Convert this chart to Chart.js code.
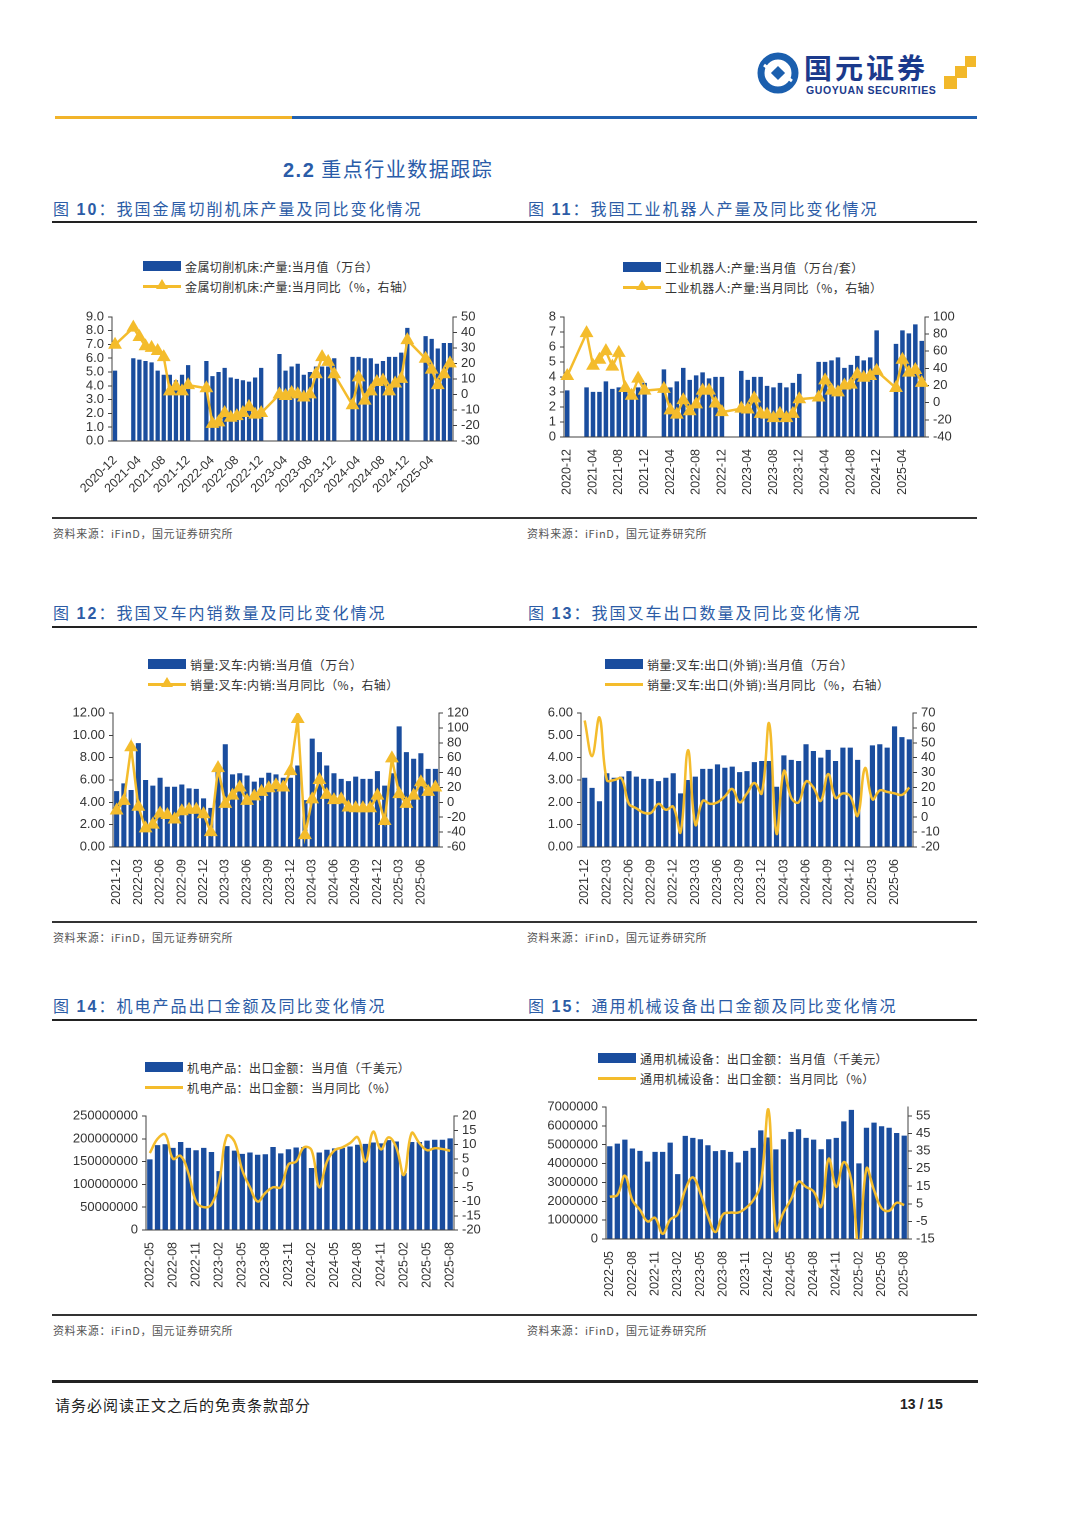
<!DOCTYPE html>
<html lang="zh-CN">
<head>
<meta charset="utf-8">
<title>2.2 重点行业数据跟踪</title>
<script src="https://cdn.jsdelivr.net/npm/chart.js@4.4.1/dist/chart.umd.min.js"></script>
<style>
  html, body { margin: 0; padding: 0; background: #fff; }
  body { width: 1080px; height: 1527px; position: relative; overflow: hidden;
         font-family: "Noto Sans CJK SC", "Noto Sans", sans-serif; color: #222; }
  .abs { position: absolute; }
  .figtitle { font-size: 16px; color: #2c5ca6; letter-spacing: 2px; white-space: nowrap; }
  .figtitle b { font-family: "Liberation Sans", Arial, sans-serif; }
  .rule { background: #222; }
  .src { font-size: 11px; color: #555; letter-spacing: 0.6px; white-space: nowrap; }
  .legend { font-size: 12px; color: #333; letter-spacing: 0.4px; white-space: nowrap; }
  .lg-row { height: 20px; display: flex; align-items: center; }
  .sw-bar { display: inline-block; width: 38px; height: 10px; background: #1a4d9e; margin-right: 4px; }
  .sw-line { display: inline-block; position: relative; width: 38px; height: 3px; background: #f4bc2c; margin-right: 4px; }
  .sw-line.tri::after { content: ""; position: absolute; left: 13px; top: -6px; width: 0; height: 0;
         border-left: 6px solid transparent; border-right: 6px solid transparent; border-bottom: 10px solid #f4bc2c; }
  canvas { position: absolute; }
</style>
</head>
<body>

<!-- header / logo -->
<svg class="abs" style="left:756px; top:51px" width="44" height="44" viewBox="0 0 44 44">
  <circle cx="22" cy="22" r="17" fill="none" stroke="#1b5fae" stroke-width="7"/>
  <path d="M8 14 L16 20" stroke="#fff" stroke-width="3"/>
  <path d="M36 30 L28 24" stroke="#fff" stroke-width="3"/>
  <rect x="17" y="17" width="10" height="10" fill="#1b5fae" transform="rotate(45 22 22)"/>
</svg>
<div class="abs" style="left:804px; top:53px; font-size:28px; line-height:28px; font-weight:bold; color:#1b3a8c; letter-spacing:3px; white-space:nowrap;">国元证券</div>
<div class="abs" style="left:806px; top:85px; font-size:10.5px; line-height:11px; font-weight:bold; color:#1b3a8c; font-family:'Liberation Sans',Arial,sans-serif; letter-spacing:0.6px; white-space:nowrap;">GUOYUAN SECURITIES</div>
<div class="abs" style="left:944px; top:76px; width:13px; height:13px; background:#f2b82a;"></div>
<div class="abs" style="left:955px; top:66px; width:12px; height:12px; background:#f2b82a;"></div>
<div class="abs" style="left:965px; top:56px; width:11px; height:11px; background:#f2b82a;"></div>
<div class="abs" style="left:55px; top:116px; width:237px; height:3px; background:#f2b42a;"></div>
<div class="abs" style="left:292px; top:116px; width:685px; height:3px; background:#2060b0;"></div>

<div class="abs" style="left:283px; top:154px; font-size:20px; color:#2a5ca8; letter-spacing:1.5px; white-space:nowrap;"><b style="font-family:'Liberation Sans',Arial,sans-serif;">2.2</b> 重点行业数据跟踪</div>

<!-- row 1 -->
<div class="abs figtitle" style="left:53px; top:196px;">图 <b>10</b>：我国金属切削机床产量及同比变化情况</div>
<div class="abs figtitle" style="left:528px; top:196px;">图 <b>11</b>：我国工业机器人产量及同比变化情况</div>
<div class="abs rule" style="left:52px; top:221px; width:925px; height:2px;"></div>

<div class="abs legend" style="left:143px; top:256px;">
  <div class="lg-row"><span class="sw-bar"></span>金属切削机床:产量:当月值（万台）</div>
  <div class="lg-row"><span class="sw-line tri"></span>金属切削机床:产量:当月同比（%，右轴）</div>
</div>
<div class="abs legend" style="left:623px; top:257px;">
  <div class="lg-row"><span class="sw-bar"></span>工业机器人:产量:当月值（万台/套）</div>
  <div class="lg-row"><span class="sw-line tri"></span>工业机器人:产量:当月同比（%，右轴）</div>
</div>
<canvas id="c10" width="440" height="205" style="left:50px; top:305px;"></canvas>
<canvas id="c11" width="445" height="200" style="left:525px; top:305px;"></canvas>

<div class="abs rule" style="left:52px; top:517px; width:925px; height:1.5px; background:#333;"></div>
<div class="abs src" style="left:53px; top:525px;">资料来源：iFinD，国元证券研究所</div>
<div class="abs src" style="left:527px; top:525px;">资料来源：iFinD，国元证券研究所</div>

<!-- row 2 -->
<div class="abs figtitle" style="left:53px; top:600px;">图 <b>12</b>：我国叉车内销数量及同比变化情况</div>
<div class="abs figtitle" style="left:528px; top:600px;">图 <b>13</b>：我国叉车出口数量及同比变化情况</div>
<div class="abs rule" style="left:52px; top:626px; width:925px; height:2px;"></div>

<div class="abs legend" style="left:148px; top:654px;">
  <div class="lg-row"><span class="sw-bar"></span>销量:叉车:内销:当月值（万台）</div>
  <div class="lg-row"><span class="sw-line tri"></span>销量:叉车:内销:当月同比（%，右轴）</div>
</div>
<div class="abs legend" style="left:605px; top:654px;">
  <div class="lg-row"><span class="sw-bar"></span>销量:叉车:出口(外销):当月值（万台）</div>
  <div class="lg-row"><span class="sw-line"></span>销量:叉车:出口(外销):当月同比（%，右轴）</div>
</div>
<canvas id="c12" width="440" height="210" style="left:50px; top:700px;"></canvas>
<canvas id="c13" width="445" height="210" style="left:525px; top:700px;"></canvas>

<div class="abs rule" style="left:52px; top:921px; width:925px; height:1.5px; background:#333;"></div>
<div class="abs src" style="left:53px; top:929px;">资料来源：iFinD，国元证券研究所</div>
<div class="abs src" style="left:527px; top:929px;">资料来源：iFinD，国元证券研究所</div>

<!-- row 3 -->
<div class="abs figtitle" style="left:53px; top:993px;">图 <b>14</b>：机电产品出口金额及同比变化情况</div>
<div class="abs figtitle" style="left:528px; top:993px;">图 <b>15</b>：通用机械设备出口金额及同比变化情况</div>
<div class="abs rule" style="left:52px; top:1019px; width:925px; height:2px;"></div>

<div class="abs legend" style="left:145px; top:1057px;">
  <div class="lg-row"><span class="sw-bar"></span>机电产品：出口金额：当月值（千美元）</div>
  <div class="lg-row"><span class="sw-line"></span>机电产品：出口金额：当月同比（%）</div>
</div>
<div class="abs legend" style="left:598px; top:1048px;">
  <div class="lg-row"><span class="sw-bar"></span>通用机械设备：出口金额：当月值（千美元）</div>
  <div class="lg-row"><span class="sw-line"></span>通用机械设备：出口金额：当月同比（%）</div>
</div>
<canvas id="c14" width="440" height="200" style="left:50px; top:1100px;"></canvas>
<canvas id="c15" width="445" height="210" style="left:525px; top:1095px;"></canvas>

<div class="abs rule" style="left:52px; top:1314px; width:925px; height:1.5px; background:#333;"></div>
<div class="abs src" style="left:53px; top:1322px;">资料来源：iFinD，国元证券研究所</div>
<div class="abs src" style="left:527px; top:1322px;">资料来源：iFinD，国元证券研究所</div>

<!-- footer -->
<div class="abs rule" style="left:52px; top:1380px; width:926px; height:2.5px;"></div>
<div class="abs" style="left:55px; top:1394px; font-size:15px; letter-spacing:1px; color:#222;">请务必阅读正文之后的免责条款部分</div>
<div class="abs" style="left:900px; top:1396px; font-size:14px; font-weight:bold; font-family:'Liberation Sans',Arial,sans-serif; color:#222;">13 / 15</div>

<script>
// month categories
const months1 = [
  '2020-12',
  '2021-01', '2021-02', '2021-03', '2021-04', '2021-05', '2021-06', '2021-07', '2021-08', '2021-09', '2021-10', '2021-11', '2021-12',
  '2022-01', '2022-02', '2022-03', '2022-04', '2022-05', '2022-06', '2022-07', '2022-08', '2022-09', '2022-10', '2022-11', '2022-12',
  '2023-01', '2023-02', '2023-03', '2023-04', '2023-05', '2023-06', '2023-07', '2023-08', '2023-09', '2023-10', '2023-11', '2023-12',
  '2024-01', '2024-02', '2024-03', '2024-04', '2024-05', '2024-06', '2024-07', '2024-08', '2024-09', '2024-10', '2024-11', '2024-12',
  '2025-01', '2025-02', '2025-03', '2025-04', '2025-05', '2025-06', '2025-07'
]
const months2 = [
  '2021-12',
  '2022-01', '2022-02', '2022-03', '2022-04', '2022-05', '2022-06', '2022-07', '2022-08', '2022-09', '2022-10', '2022-11', '2022-12',
  '2023-01', '2023-02', '2023-03', '2023-04', '2023-05', '2023-06', '2023-07', '2023-08', '2023-09', '2023-10', '2023-11', '2023-12',
  '2024-01', '2024-02', '2024-03', '2024-04', '2024-05', '2024-06', '2024-07', '2024-08', '2024-09', '2024-10', '2024-11', '2024-12',
  '2025-01', '2025-02', '2025-03', '2025-04', '2025-05', '2025-06', '2025-07', '2025-08'
]
const months3 = [
  '2022-05', '2022-06', '2022-07', '2022-08', '2022-09', '2022-10', '2022-11', '2022-12',
  '2023-01', '2023-02', '2023-03', '2023-04', '2023-05', '2023-06', '2023-07', '2023-08', '2023-09', '2023-10', '2023-11', '2023-12',
  '2024-01', '2024-02', '2024-03', '2024-04', '2024-05', '2024-06', '2024-07', '2024-08', '2024-09', '2024-10', '2024-11', '2024-12',
  '2025-01', '2025-02', '2025-03', '2025-04', '2025-05', '2025-06', '2025-07', '2025-08'
]

// 图10 金属切削机床 (Jan/Feb not published)
const machineOutput = [
  5.1,
  null, null, 6.0, 5.9, 5.8, 5.7, 5.1, 4.8, 4.8, 4.4, 4.8, 5.5,
  null, null, 5.8, 4.7, 5.0, 5.3, 4.6, 4.5, 4.4, 4.3, 4.6, 5.3,
  null, null, 6.3, 5.1, 5.4, 5.6, 4.8, 5.0, 5.4, 5.4, 5.4, 6.0,
  null, null, 6.1, 6.1, 6.0, 6.0, 5.6, 5.8, 6.1, 6.1, 6.4, 8.2,
  null, null, 7.6, 7.4, 6.7, 7.1, 7.1
]
const machineYoy = [
  32,
  null, null, 43, 37, 31, 30, 28, 24, 2, 5, 2, 6,
  null, null, 4, -19, -18, -12, -15, -14, -12, -8, -13, -12,
  null, null, 0, -1, 1, 0, -2, 0, 13, 24, 21, 13,
  null, null, -7, 11, -4, 2, 8, 9, 2, 7, 10, 35,
  null, null, 23, 16, 6, 13, 20
]

// 图11 工业机器人
const robotOutput = [
  3.1,
  null, null, 3.3, 3.0, 3.0, 3.7, 3.2, 3.3, 3.0, 2.7, 3.3, 3.6,
  null, null, 4.5, 3.3, 3.7, 4.6, 3.8, 4.1, 4.3, 3.9, 4.0, 4.0,
  null, null, 4.4, 3.8, 4.0, 4.0, 3.4, 3.3, 3.6, 3.3, 3.6, 4.2,
  null, null, 5.0, 5.0, 5.1, 5.3, 4.6, 4.8, 5.4, 5.1, 5.3, 7.1,
  null, null, 6.2, 7.1, 6.9, 7.5, 6.4
]
const robotYoy = [
  31,
  null, null, 81, 43, 50, 60, 42, 58, 17, 8, 28, 14,
  null, null, 16, -9, -14, 3, -10, -2, 14, 14, -1, -11,
  null, null, -7, -8, 5, -13, -14, -18, -13, -18, -13, 4,
  null, null, 6, 26, 14, 12, 20, 21, 33, 29, 31, 37,
  null, null, 17, 50, 35, 38, 23
]

// 图12 叉车内销
const forkDomestic = [
  5.0, 5.7, 5.1, 9.3, 6.0, 5.5, 6.2, 5.4, 5.4, 5.6, 5.25, 5.2, 4.35,
  3.5, 7.4, 9.2, 6.5, 6.6, 6.4, 5.85, 6.2, 6.65, 6.5, 6.2, 6.2,
  7.3, 4.2, 9.7, 8.5, 7.3, 6.6, 6.1, 5.9, 6.3, 6.1, 6.1, 6.8,
  5.5, 6.6, 10.8, 8.5, 7.9, 8.4, 7.0, 7.0
]
const forkDomesticYoy = [
  -11, 2, 74, -6, -35, -30, -15, -17, -23, -12, -10, -10, -16,
  -40, 46, -2, 9, 20, 2, 8, 14, 19, 23, 20, 42,
  112, -44, 4, 30, 10, 3, 4, -7, -8, -8, -8, 9,
  -25, 59, 11, -2, 9, 27, 14, 20
]

// 图13 叉车出口
const forkExport = [
  3.1, 2.65, 2.05, 3.3, 3.1, 3.15, 3.4, 3.15, 3.05, 3.05, 2.95, 3.1, 3.3,
  2.4, 3.0, 3.15, 3.5, 3.5, 3.7, 3.55, 3.6, 3.35, 3.4, 3.8, 3.85,
  3.85, 2.7, 4.1, 3.9, 3.85, 4.6, 4.3, 4.0, 4.35, 3.85, 4.45, 4.45,
  3.9, null, 4.55, 4.6, 4.45, 5.4, 4.92, 4.82
]
const forkExportYoy = [
  65, 41, 67, 25, 25, 26, 9, 6, 3, 3, 9, 5, 7,
  -10, 45, -5, 11, 9, 10, 14, 19, 10, 16, 23, 16,
  63, -11, 31, 13, 10, 24, 20, 11, 29, 13, 16, 14,
  1, 33, 12, 18, 17, 16, 15, 20
]

// 图14 机电产品出口 (千美元)
const mechExport = [
  155000000, 186000000, 188000000, 180000000, 193000000, 180000000, 175000000, 180000000,
  171000000, 129000000, 184000000, 174000000, 167000000, 170000000, 165000000, 166000000, 182000000, 168000000, 177000000, 181000000,
  182000000, 136000000, 170000000, 176000000, 179000000, 180000000, 183000000, 187000000, 189000000, 192000000, 190000000, 197000000,
  194000000, 125000000, 193000000, 193000000, 196000000, 198000000, 198000000, 201000000
]
const mechYoy = [
  7, 12, 13.5, 5, 6, 0, -10, -12,
  -11, -3, 13, 11, 1, -5, -10, -7, -5, -5, 3, 4,
  9, 8, -5, 4, 8, 9, 10.5, 12.5, 4, 14.5, 8.3, 12.5,
  9, -0.7, 14, 10.5, 8, 8.7, 8.4, 7.8
]

// 图15 通用机械设备出口 (千美元)
const generalExport = [
  4920000, 5060000, 5270000, 4800000, 4670000, 4100000, 4620000, 4620000,
  5110000, 3440000, 5470000, 5360000, 5290000, 4970000, 4660000, 4710000, 4620000, 4060000, 4670000, 4830000,
  5760000, 5380000, 4750000, 5290000, 5680000, 5820000, 5360000, 5270000, 4760000, 5290000, 5360000, 6240000,
  6850000, 4010000, 5900000, 6170000, 5980000, 5900000, 5620000, 5480000
]
const generalYoy = [
  9, 10, 21, 7, 1.5, -5, -3, -12,
  -4, -1, 13, 20, 11, -2, -11, -1, 0, 0, 2.5, 7,
  16.5, 58.7, -10, 0, 7.5, 17.5, 14.6, 12, 3.4, 30.6, 14.6, 28.7,
  18, -20, 25, 12.8, 2.5, 1, 5.6, 4.3
]

const generalYoyTicks = [-15, -5, 5, 15, 25, 35, 45, 55]

const blue = '#1a4d9e'
const gold = '#f4bc2c'
const axisColor = '#404040'
const textColor = '#333'
const tickFont = { family: '"Liberation Sans", Arial, sans-serif', size: 13 }
const xFont = { family: '"Liberation Sans", Arial, sans-serif', size: 12.5 }

function yAxis(pos, min, max, step, fmt, w) {
  return {
    position: pos,
    min: min,
    max: max,
    grid: { display: true, drawOnChartArea: false, drawTicks: true, tickLength: 4, color: axisColor },
    border: { display: true, color: axisColor, width: 1 },
    ticks: { stepSize: step, autoSkip: false, font: tickFont, color: textColor, padding: 4, callback: fmt },
    afterFit: (s) => { s.width = w }
  }
}

function buildChart(id, c) {
  const ctx = document.getElementById(id).getContext('2d')
  const right = yAxis('right', c.rMin, c.rMax, c.rStep, (v) => String(v), c.rW)
  if (c.rTicks) {
    right.afterBuildTicks = (s) => { s.ticks = c.rTicks.map((v) => ({ value: v })) }
  }
  return new Chart(ctx, {
    type: 'bar',
    data: {
      labels: c.labels,
      datasets: [
        {
          type: 'line',
          data: c.line,
          yAxisID: 'y1',
          borderColor: gold,
          backgroundColor: gold,
          borderWidth: 2.5,
          pointStyle: c.markers ? 'triangle' : false,
          pointRadius: c.markers ? 5.5 : 0,
          tension: c.markers ? 0 : 0.4,
          spanGaps: true,
          order: 0
        },
        {
          type: 'bar',
          data: c.bars,
          yAxisID: 'y',
          backgroundColor: blue,
          categoryPercentage: 1,
          barPercentage: 0.7,
          order: 1
        }
      ]
    },
    options: {
      responsive: false,
      animation: false,
      devicePixelRatio: 2,
      layout: { padding: { top: c.padTop, left: 0, right: 0, bottom: 0 } },
      plugins: { legend: { display: false }, tooltip: { enabled: false } },
      scales: {
        x: {
          grid: { display: false },
          border: { display: true, color: axisColor, width: 1 },
          ticks: {
            autoSkip: false,
            minRotation: c.rot,
            maxRotation: c.rot,
            font: xFont,
            color: textColor,
            padding: 4,
            callback: (v, i) => (i % c.every === 0 ? c.labels[i] : '')
          },
          afterFit: (s) => { s.height = c.xH }
        },
        y: yAxis('left', c.lMin, c.lMax, c.lStep, c.lFmt, c.lW),
        y1: right
      }
    }
  })
}

buildChart('c10', {
  labels: months1, bars: machineOutput, line: machineYoy, markers: true,
  lMin: 0, lMax: 9, lStep: 1, lFmt: (v) => v.toFixed(1), lW: 62,
  rMin: -30, rMax: 50, rStep: 10, rW: 37,
  padTop: 10, xH: 69, rot: 45, every: 4
})

buildChart('c11', {
  labels: months1, bars: robotOutput, line: robotYoy, markers: true,
  lMin: 0, lMax: 8, lStep: 1, lFmt: (v) => String(v), lW: 39,
  rMin: -40, rMax: 100, rStep: 20, rW: 45,
  padTop: 10, xH: 68, rot: 90, every: 4
})

buildChart('c12', {
  labels: months2, bars: forkDomestic, line: forkDomesticYoy, markers: true,
  lMin: 0, lMax: 12, lStep: 2, lFmt: (v) => v.toFixed(2), lW: 63,
  rMin: -60, rMax: 120, rStep: 20, rW: 51,
  padTop: 13, xH: 63, rot: 90, every: 3
})

buildChart('c13', {
  labels: months2, bars: forkExport, line: forkExportYoy, markers: false,
  lMin: 0, lMax: 6, lStep: 1, lFmt: (v) => v.toFixed(2), lW: 56,
  rMin: -20, rMax: 70, rStep: 10, rW: 57,
  padTop: 13, xH: 63, rot: 90, every: 3
})

buildChart('c14', {
  labels: months3, bars: mechExport, line: mechYoy, markers: false,
  lMin: 0, lMax: 250000000, lStep: 50000000, lFmt: (v) => String(v), lW: 96,
  rMin: -20, rMax: 20, rStep: 5, rW: 36,
  padTop: 16, xH: 70, rot: 90, every: 3
})

buildChart('c15', {
  labels: months3, bars: generalExport, line: generalYoy, markers: false,
  lMin: 0, lMax: 7000000, lStep: 1000000, lFmt: (v) => String(v), lW: 81,
  rMin: -15, rMax: 60, rStep: 10, rW: 62, rTicks: generalYoyTicks,
  padTop: 12, xH: 66, rot: 90, every: 3
})
</script>
</body>
</html>
